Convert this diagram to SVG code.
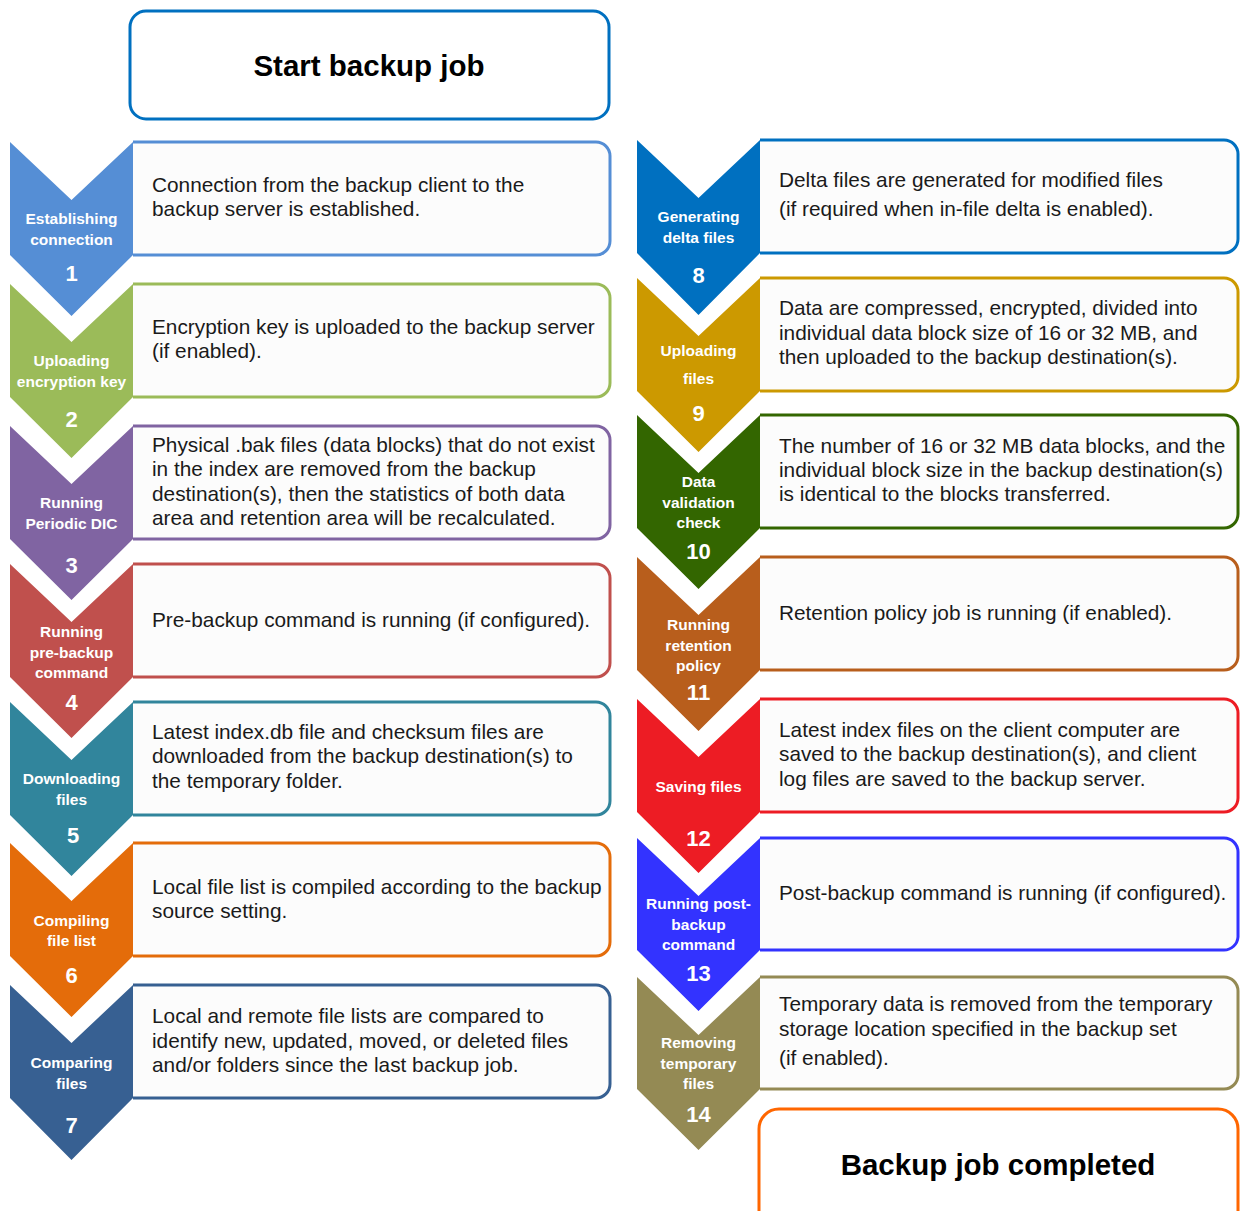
<svg xmlns="http://www.w3.org/2000/svg" width="1246" height="1211" viewBox="0 0 1246 1211">
<style>
.bg{fill:#ffffff}
.box{fill:#FCFCFC;stroke-width:3}
.d{font-family:"Liberation Sans",Arial,sans-serif;font-size:20.8px;fill:#1a1a1a}
.l{font-family:"Liberation Sans",Arial,sans-serif;font-size:15.5px;font-weight:bold;fill:#ffffff;text-anchor:middle}
.n{font-family:"Liberation Sans",Arial,sans-serif;font-size:22px;font-weight:bold;fill:#ffffff;text-anchor:middle}
.t{font-family:"Liberation Sans",Arial,sans-serif;font-weight:bold;fill:#000000;text-anchor:middle}
</style>
<rect class="bg" x="0" y="0" width="1246" height="1211"/>
<g id="connectors"/>

<g id="start">
<rect x="130" y="11" width="479" height="108" rx="16" fill="#ffffff" stroke="#0070C0" stroke-width="3"/>
<text class="t" x="369" y="76" font-size="29.5">Start backup job</text>
</g>

<g id="step1">
<path class="box" stroke="#558ED5" d="M133,142 H596 A14,14 0 0 1 610,156 V241 A14,14 0 0 1 596,255 H133"/>
<path fill="#558ED5" d="M10,142 L71.5,200 L133,142 L133,255 L71.5,316 L10,255 Z"/>
<text class="l" x="71.5" y="224">Establishing</text>
<text class="l" x="71.5" y="245">connection</text>
<text class="n" x="71.5" y="281">1</text>
<text class="d" x="152" y="192">Connection from the backup client to the</text>
<text class="d" x="152" y="216">backup server is established.</text>
</g>

<g id="step2">
<path class="box" stroke="#9BBB59" d="M133,284 H596 A14,14 0 0 1 610,298 V383 A14,14 0 0 1 596,397 H133"/>
<path fill="#9BBB59" d="M10,284 L71.5,342 L133,284 L133,397 L71.5,458 L10,397 Z"/>
<text class="l" x="71.5" y="366">Uploading</text>
<text class="l" x="71.5" y="387">encryption key</text>
<text class="n" x="71.5" y="427">2</text>
<text class="d" x="152" y="334">Encryption key is uploaded to the backup server</text>
<text class="d" x="152" y="358">(if enabled).</text>
</g>

<g id="step3">
<path class="box" stroke="#8064A2" d="M133,426 H596 A14,14 0 0 1 610,440 V525 A14,14 0 0 1 596,539 H133"/>
<path fill="#8064A2" d="M10,426 L71.5,484 L133,426 L133,539 L71.5,600 L10,539 Z"/>
<text class="l" x="71.5" y="508">Running</text>
<text class="l" x="71.5" y="529">Periodic DIC</text>
<text class="n" x="71.5" y="573">3</text>
<text class="d" x="152" y="452">Physical .bak files (data blocks) that do not exist</text>
<text class="d" x="152" y="476">in the index are removed from the backup</text>
<text class="d" x="152" y="501">destination(s), then the statistics of both data</text>
<text class="d" x="152" y="525">area and retention area will be recalculated.</text>
</g>

<g id="step4">
<path class="box" stroke="#C0504D" d="M133,564 H596 A14,14 0 0 1 610,578 V663 A14,14 0 0 1 596,677 H133"/>
<path fill="#C0504D" d="M10,564 L71.5,622 L133,564 L133,677 L71.5,738 L10,677 Z"/>
<text class="l" x="71.5" y="637">Running</text>
<text class="l" x="71.5" y="658">pre-backup</text>
<text class="l" x="71.5" y="678">command</text>
<text class="n" x="71.5" y="710">4</text>
<text class="d" x="152" y="627">Pre-backup command is running (if configured).</text>
</g>

<g id="step5">
<path class="box" stroke="#31859C" d="M133,702 H596 A14,14 0 0 1 610,716 V801 A14,14 0 0 1 596,815 H133"/>
<path fill="#31859C" d="M10,702 L71.5,760 L133,702 L133,815 L71.5,876 L10,815 Z"/>
<text class="l" x="71.5" y="784">Downloading</text>
<text class="l" x="71.5" y="805">files</text>
<text class="n" x="73" y="843">5</text>
<text class="d" x="152" y="739">Latest index.db file and checksum files are</text>
<text class="d" x="152" y="763">downloaded from the backup destination(s) to</text>
<text class="d" x="152" y="788">the temporary folder.</text>
</g>

<g id="step6">
<path class="box" stroke="#E46C0A" d="M133,843 H596 A14,14 0 0 1 610,857 V942 A14,14 0 0 1 596,956 H133"/>
<path fill="#E46C0A" d="M10,843 L71.5,901 L133,843 L133,956 L71.5,1017 L10,956 Z"/>
<text class="l" x="71.5" y="926">Compiling</text>
<text class="l" x="71.5" y="946">file list</text>
<text class="n" x="71.5" y="983">6</text>
<text class="d" x="152" y="894">Local file list is compiled according to the backup</text>
<text class="d" x="152" y="918">source setting.</text>
</g>

<g id="step7">
<path class="box" stroke="#376092" d="M133,985 H596 A14,14 0 0 1 610,999 V1084 A14,14 0 0 1 596,1098 H133"/>
<path fill="#376092" d="M10,985 L71.5,1043 L133,985 L133,1098 L71.5,1160 L10,1098 Z"/>
<text class="l" x="71.5" y="1068">Comparing</text>
<text class="l" x="71.5" y="1089">files</text>
<text class="n" x="71.5" y="1133">7</text>
<text class="d" x="152" y="1023">Local and remote file lists are compared to</text>
<text class="d" x="152" y="1048">identify new, updated, moved, or deleted files</text>
<text class="d" x="152" y="1072">and/or folders since the last backup job.</text>
</g>

<g id="step8">
<path class="box" stroke="#0070C0" d="M760,140 H1224 A14,14 0 0 1 1238,154 V239 A14,14 0 0 1 1224,253 H760"/>
<path fill="#0070C0" d="M637,140 L698.5,198 L760,140 L760,253 L698.5,315 L637,253 Z"/>
<text class="l" x="698.5" y="222">Generating</text>
<text class="l" x="698.5" y="243">delta files</text>
<text class="n" x="698.5" y="283">8</text>
<text class="d" x="779" y="187">Delta files are generated for modified files</text>
<text class="d" x="779" y="216">(if required when in-file delta is enabled).</text>
</g>

<g id="step9">
<path class="box" stroke="#CC9900" d="M760,278 H1224 A14,14 0 0 1 1238,292 V377 A14,14 0 0 1 1224,391 H760"/>
<path fill="#CC9900" d="M637,278 L698.5,336 L760,278 L760,391 L698.5,452 L637,391 Z"/>
<text class="l" x="698.5" y="356">Uploading</text>
<text class="l" x="698.5" y="384">files</text>
<text class="n" x="698.5" y="421">9</text>
<text class="d" x="779" y="315">Data are compressed, encrypted, divided into</text>
<text class="d" x="779" y="340">individual data block size of 16 or 32 MB, and</text>
<text class="d" x="779" y="364">then uploaded to the backup destination(s).</text>
</g>

<g id="step10">
<path class="box" stroke="#336600" d="M760,415 H1224 A14,14 0 0 1 1238,429 V514 A14,14 0 0 1 1224,528 H760"/>
<path fill="#336600" d="M637,415 L698.5,473 L760,415 L760,528 L698.5,589 L637,528 Z"/>
<text class="l" x="698.5" y="487">Data</text>
<text class="l" x="698.5" y="508">validation</text>
<text class="l" x="698.5" y="528">check</text>
<text class="n" x="698.5" y="559">10</text>
<text class="d" x="779" y="453">The number of 16 or 32 MB data blocks, and the</text>
<text class="d" x="779" y="477">individual block size in the backup destination(s)</text>
<text class="d" x="779" y="501">is identical to the blocks transferred.</text>
</g>

<g id="step11">
<path class="box" stroke="#B85E1C" d="M760,557 H1224 A14,14 0 0 1 1238,571 V656 A14,14 0 0 1 1224,670 H760"/>
<path fill="#B85E1C" d="M637,557 L698.5,615 L760,557 L760,670 L698.5,731 L637,670 Z"/>
<text class="l" x="698.5" y="630">Running</text>
<text class="l" x="698.5" y="651">retention</text>
<text class="l" x="698.5" y="671">policy</text>
<text class="n" x="698.5" y="700">11</text>
<text class="d" x="779" y="620">Retention policy job is running (if enabled).</text>
</g>

<g id="step12">
<path class="box" stroke="#ED1C24" d="M760,699 H1224 A14,14 0 0 1 1238,713 V798 A14,14 0 0 1 1224,812 H760"/>
<path fill="#ED1C24" d="M637,699 L698.5,757 L760,699 L760,812 L698.5,873 L637,812 Z"/>
<text class="l" x="698.5" y="792">Saving files</text>
<text class="n" x="698.5" y="846">12</text>
<text class="d" x="779" y="737">Latest index files on the client computer are</text>
<text class="d" x="779" y="761">saved to the backup destination(s), and client</text>
<text class="d" x="779" y="786">log files are saved to the backup server.</text>
</g>

<g id="step13">
<path class="box" stroke="#3333FF" d="M760,838 H1224 A14,14 0 0 1 1238,852 V937 A14,14 0 0 1 1224,950 H760"/>
<path fill="#3333FF" d="M637,838 L698.5,896 L760,838 L760,950 L698.5,1011 L637,950 Z"/>
<text class="l" x="698.5" y="909">Running post-</text>
<text class="l" x="698.5" y="930">backup</text>
<text class="l" x="698.5" y="950">command</text>
<text class="n" x="698.5" y="981">13</text>
<text class="d" x="779" y="900">Post-backup command is running (if configured).</text>
</g>

<g id="step14">
<path class="box" stroke="#948A54" d="M760,977 H1224 A14,14 0 0 1 1238,991 V1075 A14,14 0 0 1 1224,1089 H760"/>
<path fill="#948A54" d="M637,977 L698.5,1035 L760,977 L760,1089 L698.5,1150 L637,1089 Z"/>
<text class="l" x="698.5" y="1048">Removing</text>
<text class="l" x="698.5" y="1069">temporary</text>
<text class="l" x="698.5" y="1089">files</text>
<text class="n" x="698.5" y="1122">14</text>
<text class="d" x="779" y="1011">Temporary data is removed from the temporary</text>
<text class="d" x="779" y="1036">storage location specified in the backup set</text>
<text class="d" x="779" y="1065">(if enabled).</text>
</g>

<g id="end">
<rect x="759" y="1109" width="479" height="130" rx="20" fill="#ffffff" stroke="#FF6600" stroke-width="3"/>
<text class="t" x="998" y="1175" font-size="29.5">Backup job completed</text>
</g>
</svg>
